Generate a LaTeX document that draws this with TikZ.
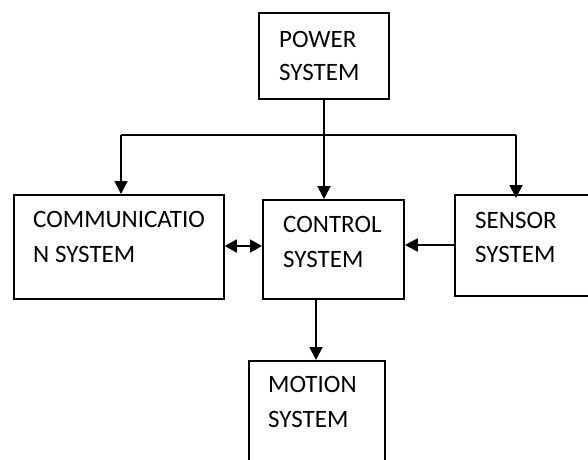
\documentclass[tikz,border=0pt]{standalone}
\usepackage{fontspec}
\setmainfont{Carlito}
\usetikzlibrary{arrows.meta}
\begin{document}
\begin{tikzpicture}[x=1pt,y=-1pt,
  blockbox/.style={draw,line width=1.8pt,inner sep=0pt,anchor=north west},
  blocktext/.style={anchor=base west,inner sep=0pt,font=\fontsize{25pt}{32pt}\selectfont},
  flow/.style={line width=1.8pt,-{Triangle[length=13pt,width=13pt]}},
  both/.style={line width=1.8pt,{Triangle[length=12pt,width=13pt]}-{Triangle[length=12pt,width=13pt]}}]
\useasboundingbox (0,0) rectangle (588,459);
\clip (0,0) rectangle (588,459);
% blocks
\node[blockbox,minimum width=130pt,minimum height=86pt] (power) at (258,12) {};
\node[blockbox,minimum width=210pt,minimum height=104pt] (comm) at (13,194) {};
\node[blockbox,minimum width=141pt,minimum height=99pt] (ctrl) at (262,199) {};
\node[blockbox,minimum width=135pt,minimum height=101pt] (sens) at (454,194) {};
\node[blockbox,minimum width=136pt,minimum height=130pt] (motion) at (248,360) {};
% labels
\node[blocktext] (powerA) at (279,47) {POWER};
\node[blocktext] (powerB) at (279,80) {SYSTEM};
\node[blocktext] (commA) at (33,227) {COMMUNICATIO};
\node[blocktext] (commB) at (33,262) {N SYSTEM};
\node[blocktext] (ctrlA) at (283,232) {CONTROL};
\node[blocktext] (ctrlB) at (283,267) {SYSTEM};
\node[blocktext] (sensA) at (475,228) {SENSOR};
\node[blocktext] (sensB) at (475,262) {SYSTEM};
\node[blocktext] (motionA) at (268,392) {MOTION};
\node[blocktext] (motionB) at (268,427) {SYSTEM};
% power distribution
\coordinate (jl) at (121,135);
\coordinate (jm) at (324,135);
\coordinate (jr) at (516,135);
\draw[line width=1.8pt] (power.south -| jm) -- (jm);
\draw[line width=1.8pt] (jl) -- (jr);
\draw[flow] (jl) -- (jl |- comm.north);
\draw[flow] (jm) -- (jm |- ctrl.north);
\draw[flow] (jr) -- ([yshift=-4pt]jr |- sens.north);
% links between blocks
\draw[both] (comm.east |- 0,246) -- (ctrl.west |- 0,246);
\draw[flow] (sens.west |- 0,245) -- (ctrl.east |- 0,245);
\coordinate (cm) at (316,0);
\draw[flow] (cm |- ctrl.south) -- (cm |- motion.north);
\end{tikzpicture}
\end{document}
